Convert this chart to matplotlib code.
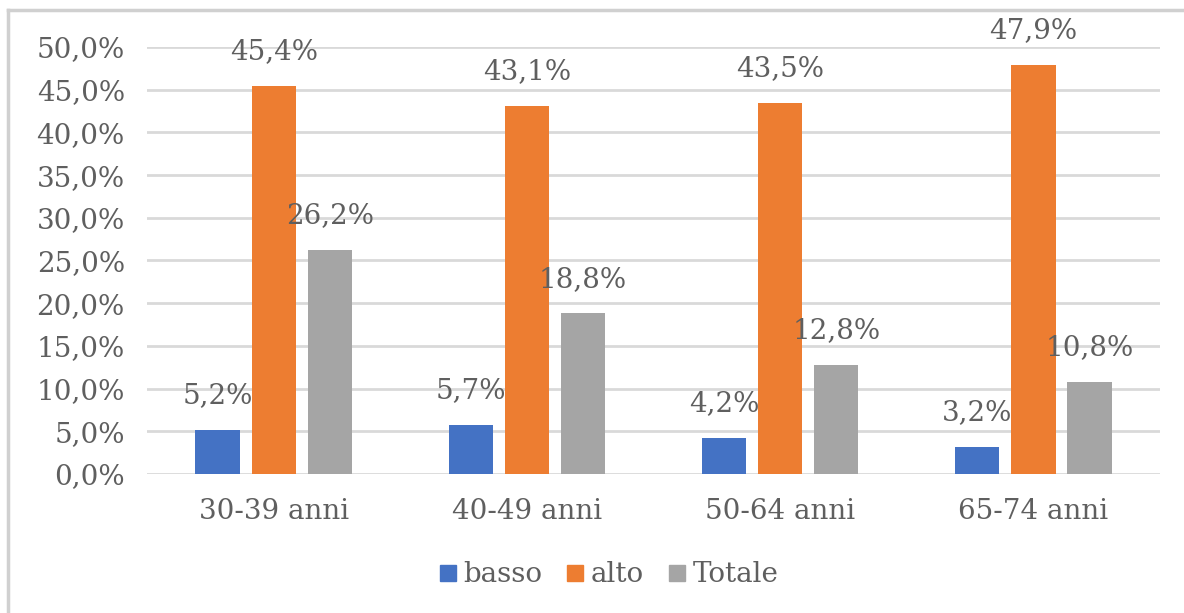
import matplotlib
matplotlib.use("Agg")
import matplotlib.pyplot as plt
from matplotlib.lines import Line2D
from matplotlib.ticker import FuncFormatter
import numpy as np

categories = ["30-39 anni", "40-49 anni", "50-64 anni", "65-74 anni"]
series_names = ["basso", "alto", "Totale"]
basso = [5.2, 5.7, 4.2, 3.2]
alto = [45.4, 43.1, 43.5, 47.9]
totale = [26.2, 18.8, 12.8, 10.8]
y_ticks = [0, 5, 10, 15, 20, 25, 30, 35, 40, 45, 50]

colors = ["#4472C4", "#ED7D31", "#A5A5A5"]
text_color = "#5F5F5F"
grid_color = "#D9D9D9"

plt.rcParams["font.family"] = ["DejaVu Serif"]


def it_pct(v, decimals=1):
    return f"{v:.{decimals}f}".replace(".", ",") + "%"


fig = plt.figure(figsize=(11.84, 6.13), dpi=100)
ax = fig.add_axes([0.1242, 0.2268, 0.8555, 0.6965])

x = np.arange(len(categories))
width = 0.175
step = 0.222
values = [basso, alto, totale]
for i, (name, vals, col) in enumerate(zip(series_names, values, colors)):
    pos = x + (i - 1) * step
    bars = ax.bar(pos, vals, width=width, color=col, label=name, zorder=3)
    for b, v in zip(bars, vals):
        ax.annotate(it_pct(v), (b.get_x() + b.get_width() / 2, v),
                    xytext=(0, 15), textcoords="offset points",
                    ha="center", va="bottom", fontsize=20, color=text_color)

ax.set_xlim(-0.5, len(categories) - 0.5)
ax.set_ylim(0, 50)
ax.set_yticks(y_ticks)
ax.yaxis.set_major_formatter(FuncFormatter(lambda v, p: it_pct(v)))
ax.set_xticks(x)
ax.set_xticklabels(categories)
ax.tick_params(axis="both", length=0, labelsize=20, labelcolor=text_color)
ax.tick_params(axis="y", pad=16)
ax.tick_params(axis="x", pad=17)
ax.grid(axis="y", color=grid_color, linewidth=2, zorder=0)
for s in ax.spines.values():
    s.set_visible(False)

handles = [Line2D([], [], marker="s", linestyle="none", markersize=11,
                  markerfacecolor=c, markeredgecolor=c) for c in colors]
fig.legend(handles, series_names, loc="center", bbox_to_anchor=(0.513, 0.062),
           ncol=3, frameon=False, fontsize=20, labelcolor=text_color,
           handletextpad=0.15, columnspacing=0.8, handlelength=0.8)

# outer chart frame (top and left edges)
fig.add_artist(Line2D([8 / 1184, 1.0], [1 - 10 / 613, 1 - 10 / 613],
                      transform=fig.transFigure, color="#D0D0D0", linewidth=2.5))
fig.add_artist(Line2D([8 / 1184, 8 / 1184], [0.0, 1 - 10 / 613],
                      transform=fig.transFigure, color="#D0D0D0", linewidth=2.5))

fig.savefig("out.png", dpi=100, facecolor="white")
